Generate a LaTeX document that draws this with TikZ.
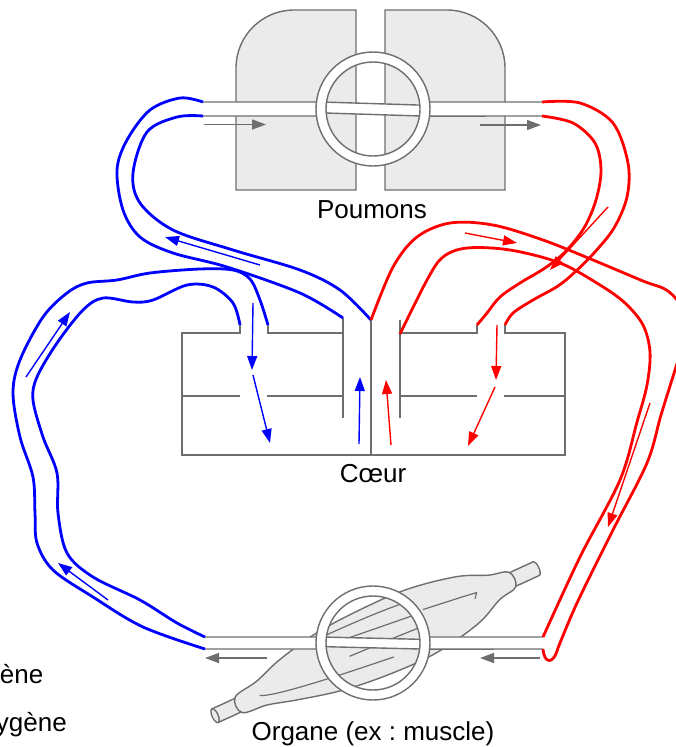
\documentclass[tikz,border=0pt]{standalone}
\usepackage{fontspec}
\setmainfont{Liberation Sans}
\usetikzlibrary{arrows.meta}
\frenchspacing

\definecolor{tissue}{HTML}{EBEBEB}
\definecolor{wallgray}{HTML}{6E6E6E}

\tikzset{
  wall/.style={draw=wallgray, line width=1.4pt},
  tissuebox/.style={wall, fill=tissue},
  vein/.style={draw=blue, line width=2.8pt},
  artery/.style={draw=red, line width=2.8pt},
  flow/.style={line width=1.4pt, -{Triangle[length=14pt,width=10pt]}},
  tubeflow/.style={draw=wallgray, line width=1.5pt, -{Triangle[length=14pt,width=10pt]}},
  organname/.style={font=\fontsize{26}{31}\selectfont, inner sep=0pt},
}

\begin{document}
\begin{tikzpicture}[x=1pt,y=-1pt]
\useasboundingbox (0,0) rectangle (676,747);
\clip (0,0) rectangle (676,747);

% lungs
\draw[tissuebox] (356,190) -- (236,190) -- (236,68) .. controls (236,36) and (262,10) .. (294,10) -- (356,10) -- cycle;
\draw[tissuebox] (385,190) -- (385,10) -- (447,10) .. controls (479,10) and (505,36) .. (505,68) -- (505,190) -- cycle;

\coordinate (pulmInT) at (203,102);
\coordinate (pulmInB) at (203,116);
\coordinate (pulmOutT) at (542,102);
\coordinate (pulmOutB) at (542,116);

\fill[white] (203,102) rectangle (322,116) (424,102) rectangle (542,116);
\fill[white] (322,101.9) -- (424,105.2) -- (424,116.1) -- (322,112.9) -- cycle;
\draw[wall] (pulmInT) -- (322,102) -- (424,105.2) (424,102) -- (pulmOutT);
\draw[wall] (pulmInB) -- (322,116) (322,112.9) -- (424,116.1) -- (pulmOutB);
\path[wall, fill=white, even odd rule] (373,109) circle[radius=57pt] (373,109) circle[radius=47pt];

\draw[tubeflow] (204,124.5) -- (266,124.5);
\draw[tubeflow] (480,125) -- (541,125);

% heart
\coordinate (venaA) at (240,325);
\coordinate (venaB) at (268,325);
\coordinate (pulmA) at (343,318);
\coordinate (pulmB) at (371,320);
\coordinate (aortaB) at (400,334);
\coordinate (pveinA) at (477,325);
\coordinate (pveinB) at (505,325);

\draw[wall] (343,333) -- (268,333) -- (venaB);
\draw[wall] (venaA) -- (240,333) -- (182,333) -- (182,455) -- (565,455) -- (565,333) -- (505,333) -- (pveinB);
\draw[wall] (pveinA) -- (477,333) -- (400,333);
\draw[wall] (pulmA) -- (343,418) (400,320) -- (400,418) (pulmB) -- (371,455);
\draw[wall] (182,396) -- (240,396) (267,396) -- (343,396) (400,396) -- (477,396) (504,396) -- (565,396);

% muscle
\begin{scope}[shift={(376,642)}, rotate=24.6]
  \draw[tissuebox] (-177,-7.5) rectangle (-140,7.5);
  \draw[tissuebox] (-177,0) ellipse[x radius=3pt, y radius=7.5pt];
  \draw[tissuebox] (140,-7.5) -- (176,-7.5) .. controls (180,-7.5) and (180,7.5) .. (176,7.5) -- (140,7.5) -- cycle;
  \draw[tissuebox] plot[smooth cycle, tension=0.6] coordinates {
    (-151,-8.5) (-125,-14) (-95,-24) (-50,-33) (0,-36) (50,-35) (100,-26) (130,-14) (150,-8)
    (150,8) (130,13) (100,26) (50,35) (0,35) (-50,30) (-95,20) (-125,12) (-151,8.5)};
  \draw[wall, line width=1.2pt] (-128,0) .. controls (-122,5) and (-80,12) .. (10,21);
  \draw[wall, line width=1.2pt] (-42,-27) .. controls (-10,-27) and (20,-26) .. (40,-24);
  \draw[wall, line width=1.2pt] (-22,-15) .. controls (10,-12) and (30,-10) .. (52,-8);
  \draw[wall, line width=1.2pt] (-30,2) .. controls (0,3) and (25,4) .. (46,5);
  \draw[wall, line width=1.2pt] (56,-10) .. controls (80,-7) and (100,-5) .. (112,-3) -- (108,2);
\end{scope}

\coordinate (bodyInT) at (543,637);
\coordinate (bodyInB) at (543,649);
\coordinate (bodyOutT) at (205,637);
\coordinate (bodyOutB) at (205,649);

\fill[white] (205,637) rectangle (322,649) (424,637) rectangle (543,649);
\fill[white] (322,637.2) -- (424,639.4) -- (424,649.1) -- (322,646.6) -- cycle;
\draw[wall] (bodyOutT) -- (322,637) -- (424,639.4) (424,637) -- (bodyInT);
\draw[wall] (bodyOutB) -- (322,649) (322,646.6) -- (424,649.1) -- (bodyInB);
\path[wall, fill=white, even odd rule] (373,643) circle[radius=57pt] (373,643) circle[radius=47pt];

\draw[tubeflow] (267,658) -- (205,658);
\draw[tubeflow] (540,658) -- (480,658);

% blue side
\draw[vein] plot[smooth, tension=0.55] coordinates {(pulmA) (300,293) (227,267) (173,253) (140,237) (123,210) (117,170) (127,140) (150,110) (180,98) (pulmInT)};
\draw[vein] plot[smooth, tension=0.55] coordinates {(pulmB) (340,290) (300,270) (233,250) (173,230) (140,203) (133,173) (147,132) (177,117) (pulmInB)};
\draw[vein] plot[smooth, tension=0.55] coordinates {(venaB) (260,300) (250,279) (233,270) (200,269) (150,273) (117,280) (87,283) (67,293) (43,317) (20,360) (13,393) (20,437) (33,477) (35,513) (37,543) (53,570) (93,597) (143,627) (bodyOutB)};
\draw[vein] plot[smooth, tension=0.55] coordinates {(venaA) (233,303) (213,287) (187,285) (153,300) (133,302) (103,298) (83,310) (57,343) (37,377) (33,400) (43,437) (57,473) (58,513) (67,553) (93,577) (140,600) (177,623) (bodyOutT)};

% red side
\draw[artery] plot[smooth, tension=0.55] coordinates {(pulmOutT) (580,103) (613,123) (628,163) (627,197) (614,228) (594,253) (575,272) (558,286) (533,300) (513,313) (pveinB)};
\draw[artery] plot[smooth, tension=0.55] coordinates {(pulmOutB) (573,123) (595,143) (601,170) (596,200) (584,228) (565,252) (545,268) (520,283) (500,297) (487,313) (pveinA)};
\draw[artery] plot[smooth, tension=0.55] coordinates {(pulmB) (393,267) (417,237) (450,223) (493,225) (543,240) (593,260) (643,281) (668,291) (684,312) (684,340) (675,370) (661,415) (647,463) (613,530) (577,603) (558,648)} .. controls (553,666) and (544,663) .. (bodyInB);
\draw[artery] plot[smooth, tension=0.55] coordinates {(aortaB) (427,280) (443,257) (467,248) (510,250) (560,263) (600,285) (625,303) (643,325) (650,352) (647,385) (637,422) (620,480) (580,557) (bodyInT)};

% flow arrows
\draw[flow, blue] (253,303) -- (252,370);
\draw[flow, blue] (253,375) -- (270,443);
\draw[flow, blue] (359,444) -- (360,377);
\draw[flow, blue] (260,265) -- (165,237);
\draw[flow, blue] (26,377) -- (70,312);
\draw[flow, blue] (108,600) -- (58,563);
\draw[flow, red] (391,445) -- (386,380);
\draw[flow, red] (497,325) -- (496,380);
\draw[flow, red] (495,387) -- (468,446);
\draw[flow, red] (465,233) -- (517,243);
\draw[flow, red] (608,207) -- (550,270);
\draw[flow, red] (650,403) -- (608,527);

\node[organname, anchor=base] (lungname) at (372,218) {Poumons};
\node[organname, anchor=base] (heartname) at (373,482) {Cœur};
\node[organname, anchor=base] (musclename) at (373,740) {Organe (ex : muscle)};
\node[organname, anchor=base east] (keypoor) at (43.5,683) {ène};
\node[organname, anchor=base east] (keyrich) at (67,731) {ygène};
\end{tikzpicture}
\end{document}
